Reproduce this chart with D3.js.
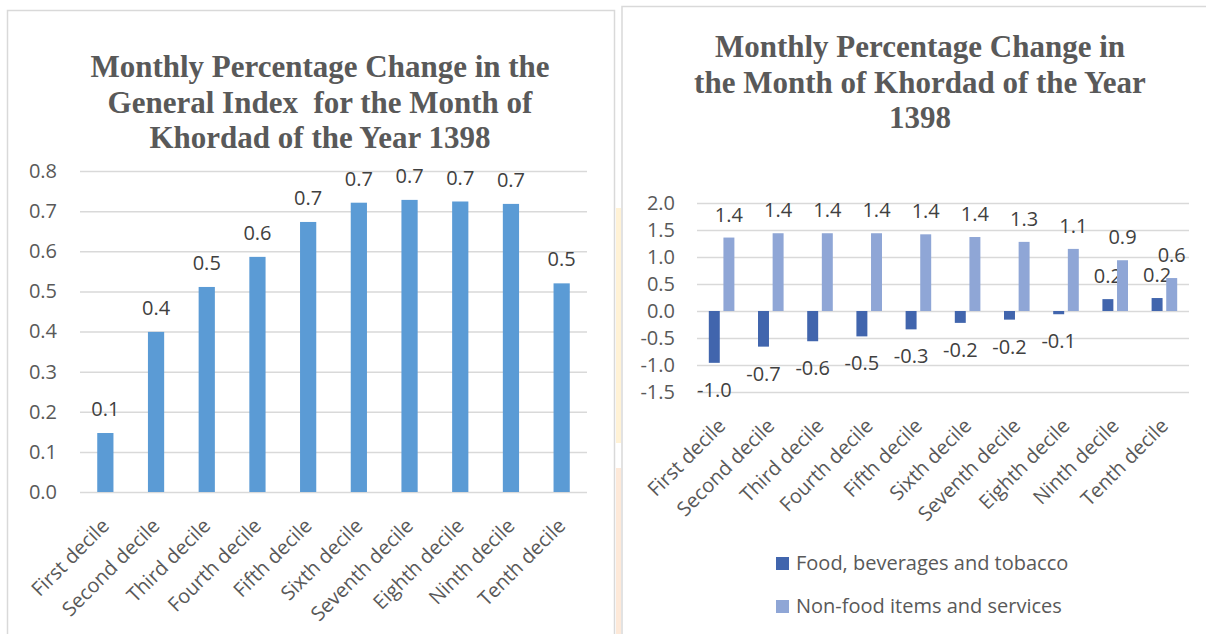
<!DOCTYPE html>
<html>
<head>
<meta charset="utf-8">
<script src="https://cdn.jsdelivr.net/npm/d3@7"></script>
<style>
  body { margin: 0; background: #fff; }
  svg { display: block; }
  .title { font-family: "Liberation Serif", "Times New Roman", serif; font-weight: bold; font-size: 31px; fill: #595959; white-space: pre; }
  .lbl { font-family: "Open Sans", sans-serif; font-size: 20px; fill: #404040; }
</style>
</head>
<body>
<svg id="viz" width="1206" height="634"></svg>
<script>
// categories
var deciles = ['First decile', 'Second decile', 'Third decile', 'Fourth decile', 'Fifth decile',
               'Sixth decile', 'Seventh decile', 'Eighth decile', 'Ninth decile', 'Tenth decile'];

// left chart: general index
var generalIndex = [0.147, 0.399, 0.511, 0.586, 0.673, 0.721, 0.728, 0.724, 0.718, 0.520];
var leftTicks = [0, 0.1, 0.2, 0.3, 0.4, 0.5, 0.6, 0.7, 0.8];
var leftTitle = ['Monthly Percentage Change in the', 'General Index  for the Month of', 'Khordad of the Year 1398'];

// right chart: food vs non-food
var seriesNames = ['Food, beverages and tobacco', 'Non-food items and services'];
var foodChange = [-0.96, -0.66, -0.56, -0.47, -0.34, -0.22, -0.16, -0.06, 0.22, 0.24];
var nonFoodChange = [1.36, 1.44, 1.44, 1.44, 1.42, 1.37, 1.28, 1.15, 0.94, 0.61];
var rightTicks = [-1.5, -1.0, -0.5, 0, 0.5, 1.0, 1.5, 2.0];
var rightTitle = ['Monthly Percentage Change in', 'the Month of Khordad of the Year', '1398'];

var seriesColors = ['#4165AD', '#8FA6D6'];
var textColor = '#595959',
    gridColor = '#d9d9d9';

var fmt = d3.formatLocale({ decimal: '.', thousands: ',', grouping: [3], currency: ['', ''], minus: '-' }).format('.1f');

var svg = d3.select('#viz');

// panel frames
svg.append('rect').attr('x', 616).attr('y', 208).attr('width', 5).attr('height', 235).attr('fill', '#fff2d6');
svg.append('rect').attr('x', 616).attr('y', 468).attr('width', 5).attr('height', 170).attr('fill', '#fde9d9');
svg.append('rect').attr('x', 7.5).attr('y', 10.5).attr('width', 607).attr('height', 650)
  .attr('fill', 'none').attr('stroke', gridColor).attr('stroke-width', 1.5);
svg.append('rect').attr('x', 622).attr('y', 6.5).attr('width', 620).attr('height', 650)
  .attr('fill', 'none').attr('stroke', gridColor).attr('stroke-width', 1.5);

function drawTitle(lines, cx, y0) {
  svg.append('text').attr('class', 'title').attr('text-anchor', 'middle')
    .selectAll('tspan').data(lines).enter().append('tspan')
    .attr('x', cx)
    .attr('y', function(d, i) { return y0 + i * 35.5; })
    .text(function(d) { return d; });
}

function styleAxes(g, yAxis, xAxis) {
  yAxis.select('.domain').remove();
  yAxis.selectAll('line').attr('stroke', gridColor).attr('stroke-width', 1.5);
  yAxis.selectAll('text').attr('class', 'lbl').style('fill', textColor);
  xAxis.select('.domain').remove();
  xAxis.selectAll('text')
    .attr('class', 'lbl').style('fill', textColor)
    .attr('x', 0).attr('y', 0).attr('dy', null)
    .attr('text-anchor', 'end')
    .attr('transform', 'translate(5,35) rotate(-45)');
}

/* ---------- left chart ---------- */
drawTitle(leftTitle, 320, 77);

var lm = { left: 80, top: 171 },
    lw = 507, lh = 321;

var gl = svg.append('g').attr('transform', 'translate(' + lm.left + ',' + lm.top + ')');

var xl = d3.scaleBand().domain(deciles).range([0, lw]).paddingInner(0.68).paddingOuter(0.34);
var yl = d3.scaleLinear().domain([0, 0.8]).range([lh, 0]);

var ylAxis = gl.append('g')
  .call(d3.axisLeft(yl).tickValues(leftTicks).tickFormat(fmt).tickSize(-lw).tickPadding(23));
var xlAxis = gl.append('g').attr('transform', 'translate(0,' + lh + ')')
  .call(d3.axisBottom(xl).tickSize(0));
styleAxes(gl, ylAxis, xlAxis);

gl.selectAll('rect.bar').data(generalIndex).enter().append('rect')
  .attr('class', 'bar')
  .attr('fill', '#5B9BD5')
  .attr('x', function(d, i) { return xl(deciles[i]); })
  .attr('width', xl.bandwidth())
  .attr('y', function(d) { return yl(d); })
  .attr('height', function(d) { return yl(0) - yl(d); });

gl.selectAll('text.val').data(generalIndex).enter().append('text')
  .attr('class', 'lbl val')
  .attr('text-anchor', 'middle')
  .attr('x', function(d, i) { return xl(deciles[i]) + xl.bandwidth() / 2; })
  .attr('y', function(d) { return yl(d) - 17; })
  .text(function(d) { return fmt(d); });

/* ---------- right chart ---------- */
drawTitle(rightTitle, 920, 57);

var rm = { left: 697, top: 203 },
    rw = 492, rh = 189;

var gr = svg.append('g').attr('transform', 'translate(' + rm.left + ',' + rm.top + ')');

var x0 = d3.scaleBand().domain(deciles).range([0, rw]).paddingInner(0.48).paddingOuter(0.24);
var x1 = d3.scaleBand().domain(seriesNames).range([0, x0.bandwidth()]).paddingInner(0.25);
var yr = d3.scaleLinear().domain([-1.5, 2.0]).range([rh, 0]);

var yrAxis = gr.append('g')
  .call(d3.axisLeft(yr).tickValues(rightTicks).tickFormat(fmt).tickSize(-rw).tickPadding(22));
var xrAxis = gr.append('g').attr('transform', 'translate(0,' + rh + ')')
  .call(d3.axisBottom(x0).tickSize(0));
styleAxes(gr, yrAxis, xrAxis);

var rows = deciles.map(function(d, i) {
  return { decile: d, values: [foodChange[i], nonFoodChange[i]] };
});

var groups = gr.selectAll('g.grp').data(rows).enter().append('g')
  .attr('class', 'grp')
  .attr('transform', function(d) { return 'translate(' + x0(d.decile) + ',0)'; });

var cells = groups.selectAll('g.cell')
  .data(function(d) { return d.values.map(function(v, k) { return { key: seriesNames[k], k: k, value: v }; }); })
  .enter().append('g').attr('class', 'cell');

cells.append('rect')
  .attr('fill', function(d) { return seriesColors[d.k]; })
  .attr('x', function(d) { return x1(d.key); })
  .attr('width', x1.bandwidth())
  .attr('y', function(d) { return yr(Math.max(0, d.value)); })
  .attr('height', function(d) { return Math.abs(yr(d.value) - yr(0)); });

cells.append('text')
  .attr('class', 'lbl')
  .attr('text-anchor', 'middle')
  .attr('x', function(d) { return x1(d.key) + x1.bandwidth() / 2; })
  .attr('y', function(d) { return d.value >= 0 ? yr(d.value) - 16 : yr(d.value) + 34; })
  .text(function(d) { return fmt(d.value); });

// legend
var legend = svg.append('g').attr('transform', 'translate(776,557)')
  .selectAll('g').data(seriesNames).enter().append('g')
  .attr('transform', function(d, i) { return 'translate(0,' + i * 43 + ')'; });

legend.append('rect')
  .attr('width', 13).attr('height', 13)
  .attr('fill', function(d, i) { return seriesColors[i]; });

legend.append('text')
  .attr('class', 'lbl')
  .style('fill', textColor)
  .attr('x', 20).attr('y', 13)
  .text(function(d) { return d; });
</script>
</body>
</html>
